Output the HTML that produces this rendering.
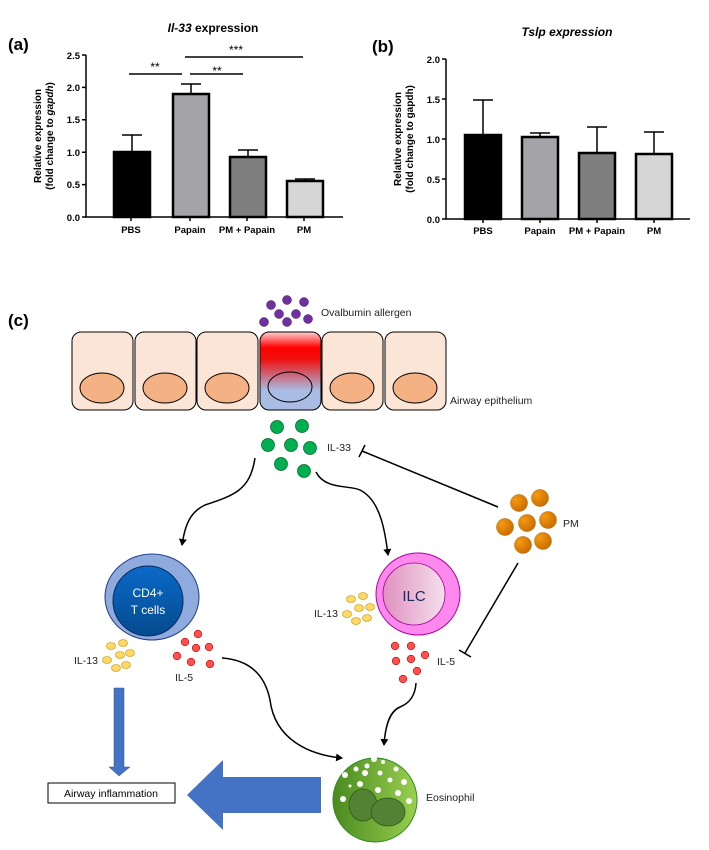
<!DOCTYPE html>
<html><head><meta charset="utf-8"><style>
body{margin:0;background:#fff}
svg text{font-family:"Liberation Sans",sans-serif}
</style></head><body>
<svg width="709" height="845" viewBox="0 0 709 845" xmlns="http://www.w3.org/2000/svg">
<defs>
<linearGradient id="rb" x1="0" y1="0" x2="0" y2="1">
<stop offset="0" stop-color="#ffd0d0"/><stop offset="0.2" stop-color="#ff0000"/><stop offset="0.35" stop-color="#ee1010"/><stop offset="0.75" stop-color="#a8bce4"/><stop offset="1" stop-color="#a8bce4"/></linearGradient>
<linearGradient id="cd" x1="0" y1="0" x2="0" y2="1"><stop offset="0" stop-color="#0a6ac8"/><stop offset="1" stop-color="#054a8e"/></linearGradient>
<linearGradient id="il" x1="0" y1="0" x2="1" y2="0"><stop offset="0" stop-color="#e090c0"/><stop offset="1" stop-color="#f4e0ec"/></linearGradient>
<linearGradient id="eo" x1="0" y1="0" x2="1" y2="0"><stop offset="0" stop-color="#4a8a20"/><stop offset="1" stop-color="#9ad050"/></linearGradient>
<radialGradient id="or" cx="0.3" cy="0.3" r="0.8"><stop offset="0" stop-color="#f59a10"/><stop offset="1" stop-color="#c86a00"/></radialGradient>
<marker id="ah" markerWidth="8" markerHeight="8" refX="6" refY="4" orient="auto" markerUnits="userSpaceOnUse"><path d="M0,0 L7,4 L0,8 Z" fill="#000"/></marker>
</defs>

<!-- Panel a -->
<text x="8" y="50" font-size="17" font-weight="bold">(a)</text>
<text x="213" y="32" font-size="12" font-weight="bold" text-anchor="middle"><tspan font-style="italic">Il-33</tspan> expression</text>
<g stroke="#000" stroke-width="1.5" fill="none">
<path d="M86,55 V217 H343"/>
<path d="M82,55H86M82,87.4H86M82,119.8H86M82,152.2H86M82,184.6H86M82,217H86"/>
<path d="M131,217v4M190,217v4M247,217v4M304,217v4"/>
</g>
<g font-size="9.5" font-weight="bold" text-anchor="end">
<text x="80" y="59">2.5</text><text x="80" y="91">2.0</text><text x="80" y="123">1.5</text><text x="80" y="156">1.0</text><text x="80" y="188">0.5</text><text x="80" y="221">0.0</text></g>
<g font-size="9.5" font-weight="bold" text-anchor="middle">
<text x="131" y="233">PBS</text><text x="190" y="233">Papain</text><text x="247" y="233">PM + Papain</text><text x="304" y="233">PM</text></g>
<text transform="translate(41,136) rotate(-90)" font-size="10" font-weight="bold" text-anchor="middle">Relative expression</text>
<text transform="translate(53,136) rotate(-90)" font-size="10" font-weight="bold" text-anchor="middle">(fold change to <tspan font-style="italic">gapdh</tspan>)</text>
<g stroke="#000" stroke-width="2.5">
<rect x="114" y="152" width="36" height="65" fill="#000"/>
<rect x="173" y="94" width="36" height="123" fill="#a3a3a8"/>
<rect x="230" y="157" width="36" height="60" fill="#7f7f7f"/>
<rect x="287" y="181" width="36" height="36" fill="#d6d6d6"/>
</g>
<g stroke="#000" stroke-width="1.5">
<path d="M132,152V135M122,135H142M191,94V84M181,84H201M248,157V150M238,150H258M305,181V179M295,179H315"/>
<path d="M129,74H182M190,74H243M185,57H303"/>
</g>
<g font-size="12" text-anchor="middle"><text x="155" y="71">**</text><text x="217" y="75">**</text><text x="236" y="54">***</text></g>

<!-- Panel b -->
<text x="372" y="52" font-size="17" font-weight="bold">(b)</text>
<text x="567" y="36" font-size="12" font-weight="bold" font-style="italic" text-anchor="middle">Tslp expression</text>
<g stroke="#000" stroke-width="1.5" fill="none">
<path d="M446,59 V219 H690"/>
<path d="M442,59H446M442,99H446M442,139H446M442,179H446M442,219H446"/>
<path d="M483,219v4M540,219v4M597,219v4M654,219v4"/>
</g>
<g font-size="9.5" font-weight="bold" text-anchor="end">
<text x="440" y="63">2.0</text><text x="440" y="103">1.5</text><text x="440" y="143">1.0</text><text x="440" y="183">0.5</text><text x="440" y="223">0.0</text></g>
<g font-size="9.5" font-weight="bold" text-anchor="middle">
<text x="483" y="234">PBS</text><text x="540" y="234">Papain</text><text x="597" y="234">PM + Papain</text><text x="654" y="234">PM</text></g>
<text transform="translate(401,139) rotate(-90)" font-size="10" font-weight="bold" text-anchor="middle">Relative expression</text>
<text transform="translate(413,139) rotate(-90)" font-size="10" font-weight="bold" text-anchor="middle">(fold change to gapdh)</text>
<g stroke="#000" stroke-width="2.5">
<rect x="465" y="135" width="36" height="84" fill="#000"/>
<rect x="522" y="137" width="36" height="82" fill="#a3a3a8"/>
<rect x="579" y="153" width="36" height="66" fill="#7f7f7f"/>
<rect x="636" y="154" width="36" height="65" fill="#d6d6d6"/>
</g>
<g stroke="#000" stroke-width="1.5">
<path d="M483,135V100M473,100H493M540,137V133M530,133H550M597,153V127M587,127H607M654,154V132M644,132H664"/>
</g>

<!-- Panel c -->
<text x="8" y="326" font-size="17" font-weight="bold">(c)</text>
<g stroke="#000" stroke-width="1" fill="#fbe5d6">
<rect x="72" y="332" width="61" height="78" rx="9"/>
<rect x="135" y="332" width="61" height="78" rx="9"/>
<rect x="197" y="332" width="61" height="78" rx="9"/>
<rect x="260" y="332" width="61" height="78" rx="9" fill="url(#rb)"/>
<rect x="322" y="332" width="61" height="78" rx="9"/>
<rect x="385" y="332" width="61" height="78" rx="9"/>
</g>
<g stroke="#000" stroke-width="1" fill="#f4b183">
<ellipse cx="102" cy="388" rx="22" ry="15"/><ellipse cx="165" cy="388" rx="22" ry="15"/><ellipse cx="227" cy="388" rx="22" ry="15"/>
<ellipse cx="290" cy="387" rx="22" ry="15" fill="none"/><ellipse cx="352" cy="388" rx="22" ry="15"/><ellipse cx="415" cy="388" rx="22" ry="15"/>
</g>
<text x="450" y="404" font-size="10.5" fill="#222">Airway epithelium</text>
<g fill="#7030a0" stroke="#401060" stroke-width="0.5">
<circle cx="271" cy="305" r="4.5"/><circle cx="287" cy="300" r="4.5"/><circle cx="304" cy="302" r="4.5"/><circle cx="279" cy="314" r="4.5"/><circle cx="296" cy="314" r="4.5"/><circle cx="264" cy="322" r="4.5"/><circle cx="287" cy="322" r="4.5"/><circle cx="308" cy="319" r="4.5"/>
</g>
<text x="321" y="316" font-size="10.5" fill="#222">Ovalbumin allergen</text>
<g fill="#00b050" stroke="#006020" stroke-width="0.7">
<circle cx="277" cy="427" r="6.5"/><circle cx="302" cy="426" r="6.5"/><circle cx="268" cy="445" r="6.5"/><circle cx="291" cy="445" r="6.5"/><circle cx="310" cy="448" r="6.5"/><circle cx="281" cy="464" r="6.5"/><circle cx="304" cy="471" r="6.5"/>
</g>
<text x="327" y="451" font-size="10.5" fill="#222">IL-33</text>
<g stroke="#000" stroke-width="1.5" fill="none">
<path d="M498,507 L362,451 M359,457 L365,445"/>
<path d="M518,563 L465,653 M459,650 L471,657"/>
<path d="M255,458 C250,490 235,495 205,505 C190,512 185,525 182,545" marker-end="url(#ah)"/>
<path d="M316,472 C325,490 350,485 360,490 C380,500 385,530 388,555" marker-end="url(#ah)"/>
<path d="M222,658 C250,660 265,675 270,700 C275,740 310,755 342,758" marker-end="url(#ah)"/>
<path d="M416,683 C415,700 405,705 400,707 C388,712 385,730 384,745" marker-end="url(#ah)"/>
</g>
<g fill="url(#or)" stroke="#b06000" stroke-width="0.5">
<circle cx="519" cy="503" r="8.5"/><circle cx="540" cy="498" r="8.5"/><circle cx="505" cy="527" r="8.5"/><circle cx="527" cy="523" r="8.5"/><circle cx="548" cy="520" r="8.5"/><circle cx="523" cy="545" r="8.5"/><circle cx="543" cy="541" r="8.5"/>
</g>
<text x="563" y="527" font-size="10.5" fill="#222">PM</text>

<!-- CD4 -->
<ellipse cx="152" cy="597" rx="47" ry="43" fill="#8faadc" stroke="#1f3c88"/>
<circle cx="148" cy="601" r="35" fill="url(#cd)" stroke="#0a2a60"/>
<text x="148" y="597" font-size="12" fill="#fff" text-anchor="middle">CD4+</text>
<text x="148" y="614" font-size="12" fill="#fff" text-anchor="middle">T cells</text>
<g fill="#ffd966" stroke="#c09000" stroke-width="0.6">
<ellipse cx="111" cy="646" rx="4.5" ry="3.5"/><ellipse cx="123" cy="643" rx="4.5" ry="3.5"/><ellipse cx="120" cy="655" rx="4.5" ry="3.5"/><ellipse cx="130" cy="653" rx="4.5" ry="3.5"/><ellipse cx="107" cy="660" rx="4.5" ry="3.5"/><ellipse cx="116" cy="668" rx="4.5" ry="3.5"/><ellipse cx="126" cy="665" rx="4.5" ry="3.5"/>
</g>
<text x="74" y="664" font-size="10.5" fill="#222">IL-13</text>
<g fill="#ff5050" stroke="#c00000" stroke-width="0.6">
<circle cx="198" cy="634" r="3.8"/><circle cx="185" cy="642" r="3.8"/><circle cx="196" cy="648" r="3.8"/><circle cx="209" cy="647" r="3.8"/><circle cx="177" cy="656" r="3.8"/><circle cx="191" cy="662" r="3.8"/><circle cx="210" cy="664" r="3.8"/>
</g>
<text x="175" y="681" font-size="10.5" fill="#222">IL-5</text>

<!-- ILC -->
<ellipse cx="418" cy="594" rx="42" ry="41" fill="#ff88ee" stroke="#b000a0"/>
<circle cx="414" cy="594" r="31" fill="url(#il)" stroke="#a00090" stroke-width="0.8"/>
<text x="414" y="601" font-size="15" fill="#1a2a60" text-anchor="middle">ILC</text>
<g fill="#ffd966" stroke="#c09000" stroke-width="0.6">
<ellipse cx="351" cy="599" rx="4.5" ry="3.5"/><ellipse cx="363" cy="596" rx="4.5" ry="3.5"/><ellipse cx="359" cy="608" rx="4.5" ry="3.5"/><ellipse cx="370" cy="607" rx="4.5" ry="3.5"/><ellipse cx="347" cy="614" rx="4.5" ry="3.5"/><ellipse cx="356" cy="621" rx="4.5" ry="3.5"/><ellipse cx="367" cy="618" rx="4.5" ry="3.5"/>
</g>
<text x="314" y="617" font-size="10.5" fill="#222">IL-13</text>
<g fill="#ff5050" stroke="#c00000" stroke-width="0.6">
<circle cx="395" cy="646" r="3.8"/><circle cx="411" cy="646" r="3.8"/><circle cx="425" cy="655" r="3.8"/><circle cx="396" cy="661" r="3.8"/><circle cx="411" cy="659" r="3.8"/><circle cx="417" cy="671" r="3.8"/><circle cx="403" cy="679" r="3.8"/>
</g>
<text x="437" y="665" font-size="10.5" fill="#222">IL-5</text>

<!-- Eosinophil -->
<circle cx="375" cy="800" r="42" fill="url(#eo)" stroke="#2e8b20"/>
<g fill="#fff">
<circle cx="374" cy="759" r="3"/><circle cx="367" cy="766" r="2.5"/><circle cx="356" cy="769" r="2.5"/><circle cx="383" cy="762" r="2"/><circle cx="396" cy="769" r="2.5"/><circle cx="345" cy="775" r="3"/><circle cx="365" cy="773" r="3"/><circle cx="380" cy="773" r="2.5"/><circle cx="390" cy="780" r="2.5"/><circle cx="404" cy="782" r="3"/><circle cx="360" cy="784" r="3"/><circle cx="378" cy="790" r="3"/><circle cx="398" cy="793" r="3"/><circle cx="343" cy="799" r="3"/><circle cx="409" cy="801" r="3"/><circle cx="350" cy="786" r="1.5"/>
</g>
<g fill="#548235" stroke="#2d5a1a" stroke-width="0.8">
<ellipse cx="363" cy="805" rx="14" ry="16"/><ellipse cx="388" cy="812" rx="17" ry="14"/>
</g>
<text x="426" y="801" font-size="10.5" fill="#222">Eosinophil</text>

<!-- blue arrows -->
<path d="M114,688 H124 V767 H130 L119,776 L109,767 H114 Z" fill="#4472c4" stroke="#2f528f" stroke-width="0.5"/>
<path d="M321,777 H223 V760 L187,795 L223,830 V813 H321 Z" fill="#4472c4"/>
<rect x="48" y="783" width="127" height="20" fill="#fff" stroke="#000"/>
<text x="111" y="797" font-size="10.5" text-anchor="middle" fill="#000">Airway inflammation</text>
</svg>
</body></html>
